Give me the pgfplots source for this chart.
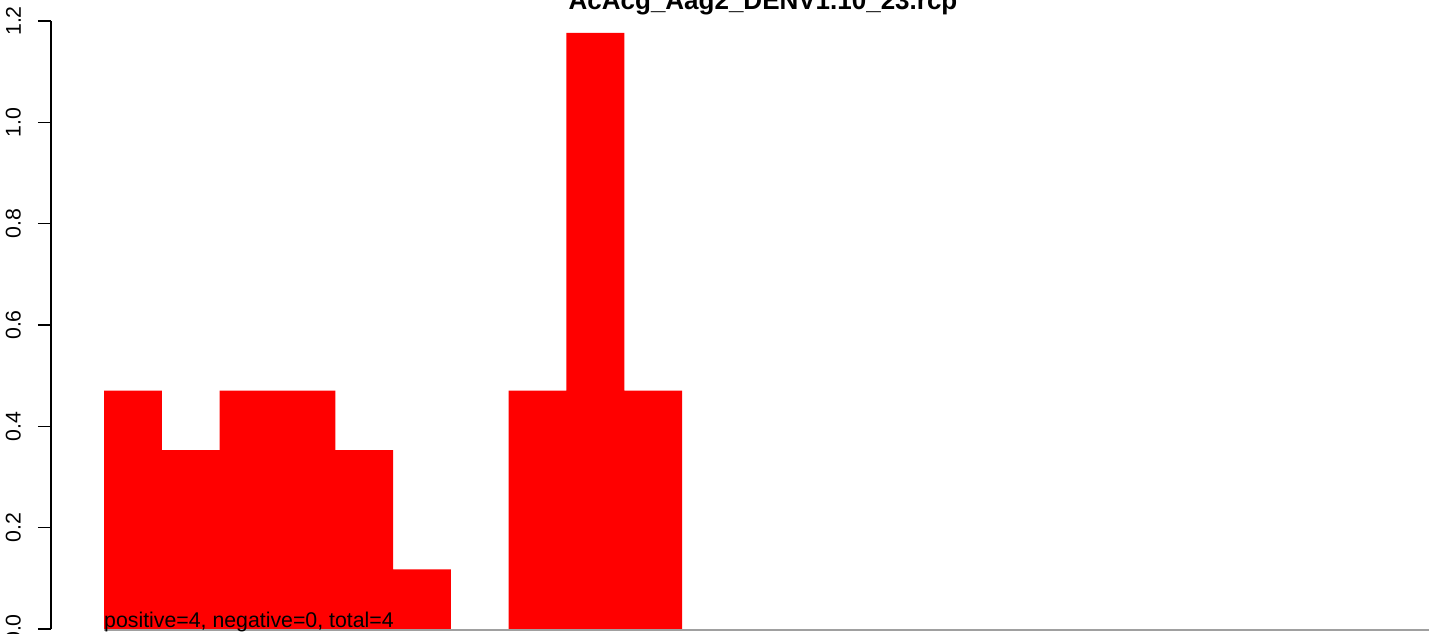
\documentclass[border=0pt]{standalone}
\usepackage{pgfplots}
\pgfplotsset{compat=1.18}
\usepackage{fontspec}
\setmainfont{Liberation Sans}
\definecolor{axgray}{RGB}{160,160,160}
\begin{document}
\begin{tikzpicture}
\useasboundingbox (-51pt,-5pt) rectangle (1378pt,629pt);
\begin{axis}[
  at={(0,0)}, anchor=south west,
  scale only axis,
  width=1378pt, height=608pt,
  xmin=-0.917, xmax=22.92,
  ymin=0, ymax=1.2,
  clip=false,
  axis x line=none,
  axis y line*=left,
  y axis line style={-, line width=1.3pt, black},
  ytick={0,0.2,0.4,0.6,0.8,1.0,1.2},
  tick align=outside,
  major tick length=13pt,
  every tick/.style={black, line width=1.3pt},
  /pgf/number format/assume math mode=true,
  yticklabel={\pgfmathprintnumber[fixed,fixed zerofill,precision=1]{\tick}},
  yticklabel style={rotate=90, anchor=south, inner sep=0pt, yshift=17pt, font=\fontsize{21.3}{25}\selectfont},
]
\addplot[ybar interval, fill=red, draw=none] coordinates {
  (0,0.4706) (1,0.3529) (2,0.4706) (3,0.4706) (4,0.3529) (5,0.1176) (6,0)
};
\addplot[ybar interval, fill=red, draw=none] coordinates {
  (7,0.4706) (8,1.1765) (9,0.4706) (10,0.4706)
};
\addplot[axgray, line width=2pt, forget plot] coordinates {(0,-0.002) (25,-0.002)};
\node[anchor=base west, inner sep=0pt, font=\fontsize{21.3}{25}\selectfont] at (axis cs:0,0) [yshift=2pt] {positive=4, negative=0, total=4};
\node[anchor=base, inner sep=0pt, font=\fontsize{26}{30}\bfseries] at (axis cs:11.4,1.2) [yshift=11pt] {AcAcg\_Aag2\_DENV1.10\_23.rcp};
\end{axis}
\end{tikzpicture}
\end{document}
